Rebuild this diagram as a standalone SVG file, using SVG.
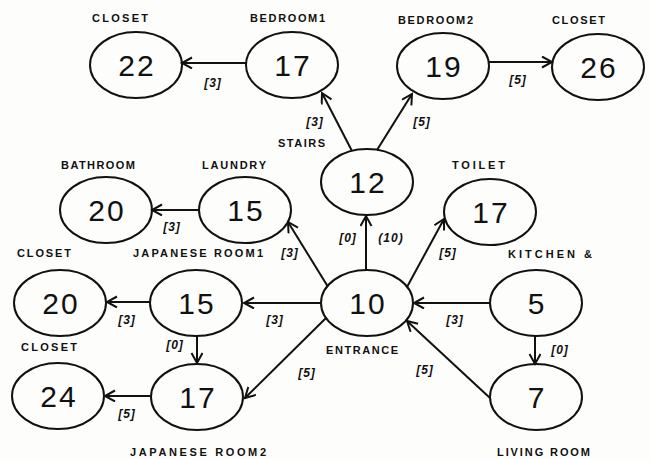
<svg xmlns="http://www.w3.org/2000/svg" width="650" height="459" viewBox="0 0 650 459">
<style>
.n ellipse{fill:none;stroke:#111;stroke-width:2}
.num{font-family:"Liberation Sans",Arial,sans-serif;font-size:30px;fill:#111;text-anchor:middle;letter-spacing:2px}
.lbl{font-family:"Liberation Sans",Arial,sans-serif;font-size:11px;font-weight:bold;fill:#111}
.el{font-family:"Liberation Sans",Arial,sans-serif;font-size:12px;font-weight:bold;font-style:italic;fill:#111;text-anchor:middle;letter-spacing:1px}
.e line{stroke:#111;stroke-width:2;marker-end:url(#ah)}
</style>
<defs>
<marker id="ah" markerUnits="userSpaceOnUse" markerWidth="14" markerHeight="14" refX="11" refY="6" orient="auto">
<path d="M1,0.5 L11,6 L1,11.5" fill="none" stroke="#111" stroke-width="2"/>
</marker>
</defs>
<rect width="650" height="459" fill="#fdfdfb"/>
<g id="connectors" class="e">
<line x1="246" y1="63" x2="182" y2="63"/>
<line x1="489" y1="62" x2="552" y2="62"/>
<line x1="352" y1="151" x2="322" y2="93"/>
<line x1="377" y1="150" x2="412" y2="94"/>
<line x1="366" y1="270" x2="366" y2="216"/>
<line x1="327.5" y1="286" x2="288" y2="222"/>
<line x1="407" y1="287" x2="444" y2="219"/>
<line x1="322" y1="303" x2="244" y2="303"/>
<line x1="150" y1="302" x2="107" y2="302"/>
<line x1="200" y1="210" x2="152" y2="210"/>
<line x1="490" y1="303" x2="414" y2="303"/>
<line x1="535" y1="336" x2="535" y2="364"/>
<line x1="490" y1="398" x2="407" y2="321"/>
<line x1="326" y1="318" x2="245" y2="398"/>
<line x1="197" y1="336" x2="197" y2="363"/>
<line x1="151" y1="396" x2="105" y2="396"/>
<text class="el" x="213" y="87">[3]</text>
<text class="el" x="518" y="84">[5]</text>
<text class="el" x="315" y="126">[3]</text>
<text class="el" x="422" y="126">[5]</text>
<text class="el" x="348" y="242">[0]</text>
<text class="el" x="391" y="242">(10)</text>
<text class="el" x="290" y="257">[3]</text>
<text class="el" x="448" y="257">[5]</text>
<text class="el" x="172" y="231">[3]</text>
<text class="el" x="127" y="324">[3]</text>
<text class="el" x="275" y="324">[3]</text>
<text class="el" x="455" y="324">[3]</text>
<text class="el" x="175" y="349">[0]</text>
<text class="el" x="560" y="354">[0]</text>
<text class="el" x="307" y="377">[5]</text>
<text class="el" x="425" y="374">[5]</text>
<text class="el" x="127" y="418">[5]</text>
</g>
<g id="closet22" class="n"><ellipse cx="136" cy="65" rx="46" ry="33"/><text class="num" x="137" y="76">22</text><text class="lbl" x="92" y="22" textLength="56" lengthAdjust="spacing">CLOSET</text></g>
<g id="bedroom1" class="n"><ellipse cx="292" cy="65" rx="46" ry="33"/><text class="num" x="293" y="76">17</text><text class="lbl" x="250" y="22" textLength="75" lengthAdjust="spacing">BEDROOM1</text></g>
<g id="bedroom2" class="n"><ellipse cx="443" cy="66" rx="46" ry="33"/><text class="num" x="444" y="77">19</text><text class="lbl" x="398" y="24" textLength="75" lengthAdjust="spacing">BEDROOM2</text></g>
<g id="closet26" class="n"><ellipse cx="598" cy="67" rx="46" ry="33"/><text class="num" x="599" y="78">26</text><text class="lbl" x="552" y="24" textLength="53" lengthAdjust="spacing">CLOSET</text></g>
<g id="stairs" class="n"><ellipse cx="367" cy="182" rx="46" ry="33"/><text class="num" x="368" y="193">12</text><text class="lbl" x="278" y="147" textLength="47" lengthAdjust="spacing">STAIRS</text></g>
<g id="bathroom" class="n"><ellipse cx="106" cy="210" rx="46" ry="33"/><text class="num" x="107" y="221">20</text><text class="lbl" x="61" y="169" textLength="74" lengthAdjust="spacing">BATHROOM</text></g>
<g id="laundry" class="n"><ellipse cx="245" cy="210" rx="46" ry="33"/><text class="num" x="246" y="221">15</text><text class="lbl" x="202" y="169" textLength="64" lengthAdjust="spacing">LAUNDRY</text></g>
<g id="toilet" class="n"><ellipse cx="490" cy="212" rx="46" ry="33"/><text class="num" x="491" y="223">17</text><text class="lbl" x="452" y="169" textLength="53" lengthAdjust="spacing">TOILET</text></g>
<g id="closet20" class="n"><ellipse cx="60" cy="303" rx="46" ry="33"/><text class="num" x="61" y="314">20</text><text class="lbl" x="17" y="257" textLength="54" lengthAdjust="spacing">CLOSET</text></g>
<g id="japanese1" class="n"><ellipse cx="196" cy="303" rx="46" ry="33"/><text class="num" x="197" y="314">15</text><text class="lbl" x="133" y="257" textLength="130" lengthAdjust="spacing">JAPANESE ROOM1</text></g>
<g id="entrance" class="n"><ellipse cx="367" cy="303" rx="46" ry="33"/><text class="num" x="368" y="314">10</text><text class="lbl" x="326" y="354" textLength="72" lengthAdjust="spacing">ENTRANCE</text></g>
<g id="kitchen" class="n"><ellipse cx="536" cy="303" rx="46" ry="33"/><text class="num" x="537" y="314">5</text><text class="lbl" x="508" y="258" textLength="84" lengthAdjust="spacing">KITCHEN &amp;</text></g>
<g id="closet24" class="n"><ellipse cx="58" cy="396" rx="46" ry="33"/><text class="num" x="59" y="407">24</text><text class="lbl" x="21" y="351" textLength="56" lengthAdjust="spacing">CLOSET</text></g>
<g id="japanese2" class="n"><ellipse cx="197" cy="397" rx="46" ry="33"/><text class="num" x="198" y="408">17</text><text class="lbl" x="130" y="456" textLength="136" lengthAdjust="spacing">JAPANESE ROOM2</text></g>
<g id="living" class="n"><ellipse cx="536" cy="397" rx="46" ry="33"/><text class="num" x="537" y="408">7</text><text class="lbl" x="497" y="456" textLength="93" lengthAdjust="spacing">LIVING ROOM</text></g>
</svg>
